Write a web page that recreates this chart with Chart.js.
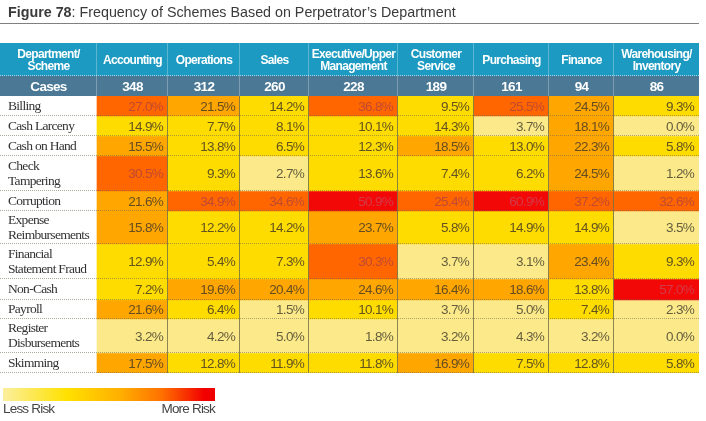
<!DOCTYPE html>
<html>
<head>
<meta charset="utf-8">
<script src="https://cdn.jsdelivr.net/npm/chart.js@4.4.1/dist/chart.umd.min.js"></script>
<style>
  html, body { margin: 0; padding: 0; background: #fff; }
  #wrap { position: relative; width: 706px; height: 421px; overflow: hidden; }
  #c { position: absolute; left: 0; top: 0; }
  #title { position: absolute; left: 8px; top: 4px; font: 14.3px 'Liberation Sans', Arial, sans-serif; color: #3a3a3a; white-space: nowrap; }
  #title b { font-weight: bold; }
  #rule { position: absolute; left: 0; top: 23px; width: 699px; height: 0; border-top: 1.5px solid #808080; }
  #scale { position: absolute; left: 3px; top: 388px; width: 212px; height: 13px;
    background: linear-gradient(to right, #fbef9e 0%, #ffe100 30%, #ffb000 55%, #ff7000 75%, #f20000 95%, #f00000 100%); }
  .lg { position: absolute; top: 401px; font: 13.5px 'Liberation Sans', Arial, sans-serif; letter-spacing: -0.8px; color: #444; white-space: nowrap; }
  #less { left: 3px; }
  #more { left: 115px; width: 100px; text-align: right; }
</style>
</head>
<body>
<div id="wrap">
  <canvas id="c" width="706" height="421"></canvas>
  <div id="title"><b>Figure 78</b>: Frequency of Schemes Based on Perpetrator’s Department</div>
  <div id="rule"></div>
  <div id="scale"></div>
  <div class="lg" id="less">Less Risk</div>
  <div class="lg" id="more">More Risk</div>
</div>
<script>
// ---------- data ----------
const departments = ['Accounting', 'Operations', 'Sales', ['Executive/Upper', 'Management'],
  ['Customer', 'Service'], 'Purchasing', 'Finance', ['Warehousing/', 'Inventory']];
const cases = [348, 312, 260, 228, 189, 161, 94, 86];
const schemes = ['Billing', 'Cash Larceny', 'Cash on Hand', ['Check', 'Tampering'], 'Corruption',
  ['Expense', 'Reimbursements'], ['Financial', 'Statement Fraud'], 'Non-Cash', 'Payroll',
  ['Register', 'Disbursements'], 'Skimming'];
const cornerLabel = ['Department/', 'Scheme'];
const casesLabel = 'Cases';

const accounting  = [27.0, 14.9, 15.5, 30.5, 21.6, 15.8, 12.9, 7.2, 21.6, 3.2, 17.5];
const operations  = [21.5, 7.7, 13.8, 9.3, 34.9, 12.2, 5.4, 19.6, 6.4, 4.2, 12.8];
const sales       = [14.2, 8.1, 6.5, 2.7, 34.6, 14.2, 7.3, 20.4, 1.5, 5.0, 11.9];
const executive   = [36.8, 10.1, 12.3, 13.6, 50.9, 23.7, 30.3, 24.6, 10.1, 1.8, 11.8];
const customerSvc = [9.5, 14.3, 18.5, 7.4, 25.4, 5.8, 3.7, 16.4, 3.7, 3.2, 16.9];
const purchasing  = [25.5, 3.7, 13.0, 6.2, 60.9, 14.9, 3.1, 18.6, 5.0, 4.3, 7.5];
const finance     = [24.5, 18.1, 22.3, 24.5, 37.2, 14.9, 23.4, 13.8, 7.4, 3.2, 12.8];
const warehousing = [9.3, 0.0, 5.8, 1.2, 32.6, 3.5, 9.3, 57.0, 2.3, 0.0, 5.8];
const columns = [accounting, operations, sales, executive, customerSvc, purchasing, finance, warehousing];

// ---------- layout (px) & style ----------
const labelColWidth = 97;
const colWidths = [71, 72, 69, 89, 76, 75, 65, 85];
const rowHeights = [20, 20, 20, 35, 20, 33, 35, 21, 19, 34, 20];

const colEdges = [labelColWidth];
colWidths.forEach(w => colEdges.push(colEdges[colEdges.length - 1] + w));
const tableWidth = colEdges[colEdges.length - 1];
const colCenters = colWidths.map((w, j) => colEdges[j] + w / 2);
const rowEdges = [0];
rowHeights.forEach(h => rowEdges.push(rowEdges[rowEdges.length - 1] + h));
const tableHeight = rowEdges[rowEdges.length - 1];
const rowCenters = rowHeights.map((h, i) => rowEdges[i] + h / 2);

const bins = [
  { max: 5.05, fill: '#fbe98a', text: '#655e3e' },
  { max: 15,   fill: '#ffdc00', text: '#62531f' },
  { max: 25,   fill: '#ffa600', text: '#664d20' },
  { max: 50,   fill: '#ff6600', text: '#bf4a30' },
  { max: 1e9,  fill: '#f30808', text: '#d3394a' }
];
const binOf = v => bins.find(b => v < b.max);

const sans = "'Liberation Sans', Arial, sans-serif";
const serif = "'Liberation Serif', 'DejaVu Serif', serif";
const SPACING = '-0.7px';

const datasets = schemes.map((s, r) => ({
  label: Array.isArray(s) ? s.join(' ') : s,
  data: columns.map((col, j) => ({ x: [colEdges[j], colEdges[j + 1]], y: rowCenters[r], v: col[r] })),
  barThickness: rowHeights[r],
  grouped: false,
  borderWidth: 0,
  borderSkipped: false,
  backgroundColor: ctx => binOf(ctx.raw.v).fill
}));

const spacingPlugin = {
  id: 'spacing',
  beforeUpdate(chart) { chart.ctx.letterSpacing = SPACING; },
  beforeDraw(chart) { chart.ctx.letterSpacing = SPACING; }
};

const tablePlugin = {
  id: 'tableDeco',
  beforeDraw(chart) {
    const { ctx } = chart;
    const n = chart.scales.xNames, c = chart.scales.xCases;
    ctx.save();
    ctx.fillStyle = '#1c9ac1';
    ctx.fillRect(n.left, n.top, n.right - n.left, n.bottom - n.top);
    ctx.fillStyle = '#4a7895';
    ctx.fillRect(c.left, c.top, c.right - c.left, c.bottom - c.top);
    ctx.restore();
  },
  afterDatasetsDraw(chart) {
    const { ctx, chartArea: a } = chart;
    const xs = chart.scales.x, ys = chart.scales.y;
    ctx.save();
    ctx.lineWidth = 1;
    ctx.strokeStyle = 'rgba(120,115,70,0.85)';
    colEdges.slice(1, -1).forEach(e => {
      const x = Math.round(xs.getPixelForValue(e)) - 0.5;
      ctx.beginPath(); ctx.moveTo(x, a.top); ctx.lineTo(x, a.bottom); ctx.stroke();
    });
    ctx.setLineDash([1, 1]);
    ctx.strokeStyle = 'rgba(110,100,80,0.55)';
    rowEdges.slice(1).forEach(e => {
      const y = Math.round(ys.getPixelForValue(e)) - 0.5;
      ctx.beginPath(); ctx.moveTo(xs.getPixelForValue(0), y); ctx.lineTo(xs.getPixelForValue(tableWidth), y); ctx.stroke();
    });
    ctx.setLineDash([]);
    ctx.font = '13.5px ' + sans;
    ctx.textAlign = 'right';
    ctx.textBaseline = 'middle';
    chart.data.datasets.forEach((ds, i) => {
      chart.getDatasetMeta(i).data.forEach((el, j) => {
        const v = ds.data[j].v;
        ctx.fillStyle = binOf(v).text;
        ctx.fillText(v.toFixed(1) + '%', el.x - 5, el.y + 1);
      });
    });
    ctx.restore();
  },
  afterDraw(chart) {
    const { ctx } = chart;
    const n = chart.scales.xNames, c = chart.scales.xCases, xs = chart.scales.x;
    ctx.save();
    ctx.lineWidth = 1;
    ctx.strokeStyle = 'rgba(255,255,255,0.28)';
    colEdges.slice(0, -1).forEach(e => {
      const x = Math.round(xs.getPixelForValue(e)) - 0.5;
      ctx.beginPath(); ctx.moveTo(x, n.top); ctx.lineTo(x, c.bottom); ctx.stroke();
    });
    ctx.setLineDash([1, 1]);
    ctx.strokeStyle = 'rgba(255,255,255,0.6)';
    ctx.beginPath(); ctx.moveTo(n.left, n.bottom - 0.5); ctx.lineTo(n.right, n.bottom - 0.5); ctx.stroke();
    ctx.restore();
  }
};

const headerTicks = [labelColWidth / 2].concat(colCenters);

new Chart(document.getElementById('c'), {
  type: 'bar',
  data: { datasets },
  options: {
    responsive: false,
    animation: false,
    indexAxis: 'y',
    layout: { padding: { top: 43, left: 0, right: 706 - tableWidth, bottom: 421 - 96 - tableHeight } },
    plugins: { legend: { display: false }, tooltip: { enabled: false } },
    scales: {
      x: { type: 'linear', min: 0, max: tableWidth, display: false, offset: false },
      y: {
        type: 'linear', min: 0, max: tableHeight, reverse: true, offset: false,
        grid: { display: false, drawTicks: false, offset: false }, border: { display: false },
        afterFit: s => { s.width = 0; },
        afterBuildTicks: s => { s.ticks = rowCenters.map(v => ({ value: v })); },
        ticks: {
          mirror: true, padding: 8, autoSkip: false, crossAlign: 'near',
          color: '#333', font: { family: serif, size: 13.5, lineHeight: '15px' },
          callback: (v, i) => schemes[i]
        }
      },
      xCases: {
        type: 'linear', position: 'top', axis: 'x', weight: 0, min: 0, max: tableWidth, offset: false,
        grid: { display: false, drawTicks: false }, border: { display: false },
        afterFit: s => { s.height = 20; },
        afterBuildTicks: s => { s.ticks = headerTicks.map(v => ({ value: v })); },
        ticks: {
          autoSkip: false, maxRotation: 0, minRotation: 0, padding: 9, crossAlign: 'center',
          color: '#fff', font: { family: sans, size: 13.5, weight: 'bold', lineHeight: '14px' },
          callback: (v, i) => i === 0 ? casesLabel : String(cases[i - 1])
        }
      },
      xNames: {
        type: 'linear', position: 'top', axis: 'x', weight: 1, min: 0, max: tableWidth, offset: false,
        grid: { display: false, drawTicks: false }, border: { display: false },
        afterFit: s => { s.height = 33; },
        afterBuildTicks: s => { s.ticks = headerTicks.map(v => ({ value: v })); },
        ticks: {
          autoSkip: false, maxRotation: 0, minRotation: 0, padding: 9.5, crossAlign: 'center',
          color: '#fff', font: { family: sans, size: 12, weight: 'bold', lineHeight: '11.5px' },
          callback: (v, i) => i === 0 ? cornerLabel : departments[i - 1]
        }
      }
    }
  },
  plugins: [spacingPlugin, tablePlugin]
});
</script>
</body>
</html>
